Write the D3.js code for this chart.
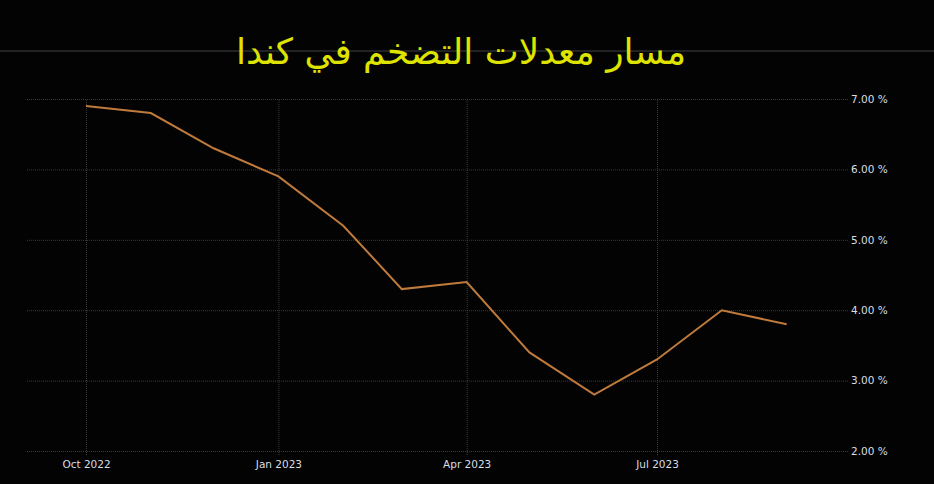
<!DOCTYPE html>
<html lang="ar">
<head>
<meta charset="UTF-8">
<script src="https://d3js.org/d3.v7.min.js"></script>
<style>
    body { margin: 0; background: #030303; }
    svg { display: block; }
</style>
</head>
<body>
<svg width="934" height="484" id="chart"></svg>
<script>
    // data (Canada CPI, y/y %)
    const months = ["2022-10", "2022-11", "2022-12", "2023-01", "2023-02", "2023-03",
                    "2023-04", "2023-05", "2023-06", "2023-07", "2023-08", "2023-09"];
    const inflation = [6.9, 6.8, 6.3, 5.9, 5.2, 4.3, 4.4, 3.4, 2.8, 3.3, 4.0, 3.8];
    const yTicks = [2, 3, 4, 5, 6, 7];
    const xTicks = ["2022-10", "2023-01", "2023-04", "2023-07"];
    const title = "مسار معدلات التضخم في كندا";

    const parse = d3.timeParse("%Y-%m");
    const svg = d3.select("#chart");

    const x = d3.scaleTime()
        .domain([parse("2022-10"), parse("2023-07")])
        .range([86, 657]);
    const y = d3.scaleLinear()
        .domain([2, 7])
        .range([451, 99]);

    // background
    svg.append("rect").attr("width", 934).attr("height", 484).attr("fill", "#030303");

    // separator line behind title
    svg.append("line")
        .attr("x1", 0).attr("x2", 934)
        .attr("y1", 51).attr("y2", 51)
        .attr("stroke", "#2e2e2e").attr("stroke-width", 1.5);

    // horizontal grid + y labels
    const yAxis = d3.axisRight(y)
        .tickValues(yTicks)
        .tickSize(-822)
        .tickPadding(3)
        .tickFormat(d => d3.format(".2f")(d) + " %");
    const gy = svg.append("g")
        .attr("transform", "translate(848,0)")
        .call(yAxis);
    gy.select(".domain").remove();
    gy.selectAll(".tick line")
        .attr("stroke", "#3a3a3a")
        .attr("stroke-dasharray", "1,1");
    gy.selectAll(".tick text")
        .attr("fill", "#d8dde4")
        .attr("font-family", "DejaVu Sans, sans-serif")
        .attr("font-size", 10.5);

    // vertical grid + x labels
    const xAxis = d3.axisBottom(x)
        .tickValues(xTicks.map(parse))
        .tickSize(-356)
        .tickPadding(6)
        .tickFormat(d3.timeFormat("%b %Y"));
    const gx = svg.append("g")
        .attr("transform", "translate(0,455)")
        .call(xAxis);
    gx.select(".domain").remove();
    gx.selectAll(".tick line")
        .attr("stroke", "#3a3a3a")
        .attr("stroke-dasharray", "1,1");
    gx.selectAll(".tick text")
        .attr("fill", "#d8dde4")
        .attr("font-family", "DejaVu Sans, sans-serif")
        .attr("font-size", 10.5);

    // line
    const line = d3.line()
        .x((d, i) => x(parse(months[i])))
        .y(d => y(d));
    svg.append("path")
        .datum(inflation)
        .attr("d", line)
        .attr("fill", "none")
        .attr("stroke", "#bf7a3c")
        .attr("stroke-width", 2);

    // title
    svg.append("text")
        .attr("x", 461)
        .attr("y", 64)
        .attr("text-anchor", "middle")
        .attr("direction", "rtl")
        .attr("fill", "#dfe300")
        .attr("font-family", "DejaVu Sans, sans-serif")
        .attr("font-size", 36)
        .text(title);
</script>
</body>
</html>
